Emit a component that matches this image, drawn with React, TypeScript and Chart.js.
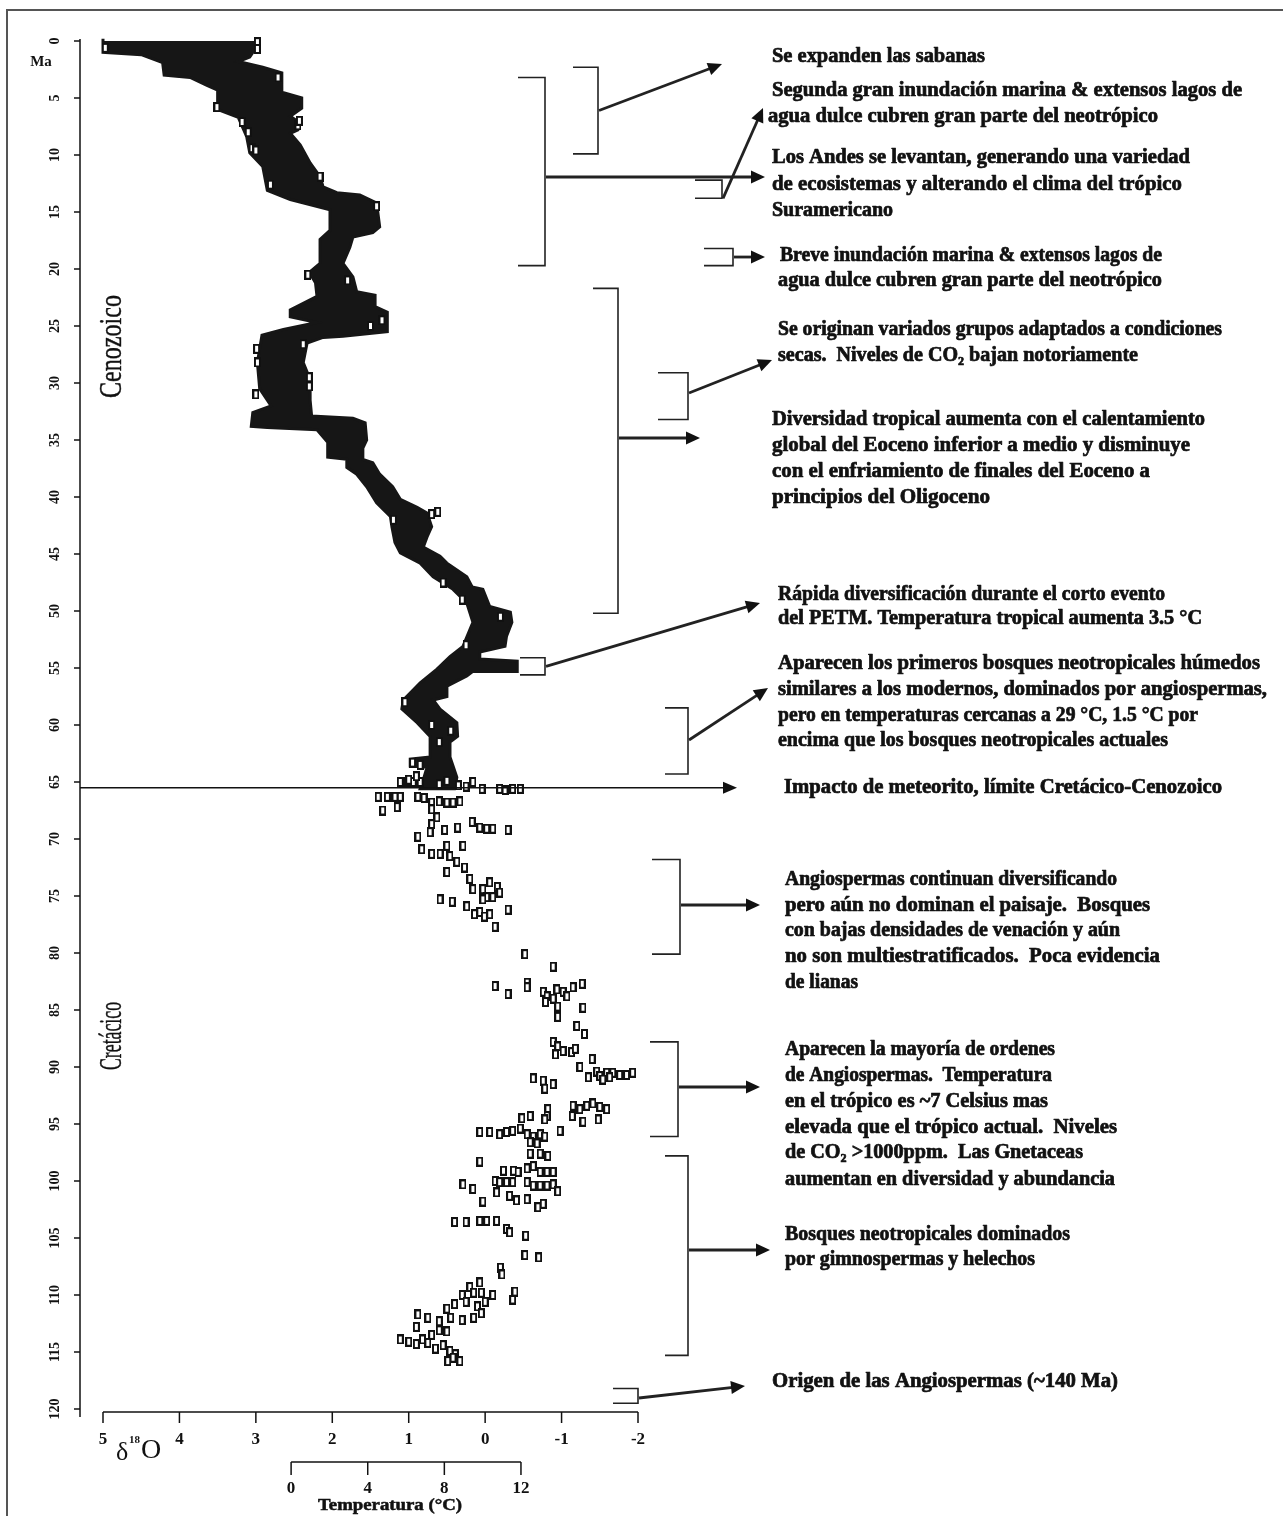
import React, { useEffect, useRef } from "react";
import { Chart, registerables } from "chart.js";

Chart.register(...registerables);

// ---------- DATA ----------
const ageTicks = [0, 5, 10, 15, 20, 25, 30, 35, 40, 45, 50, 55, 60, 65, 70, 75, 80, 85, 90, 95, 100, 105, 110, 115, 120];
const isoTicks = [5, 4, 3, 2, 1, 0, -1, -2];
const tempTicks = [0, 4, 8, 12];

// Dense Cenozoic record: outline of the black band, [δ18O, Ma]
const bandLeftEdge: [number, number][] = [
  [5.0, -0.2], [5.0, 1.0], [4.5, 1.2], [4.22, 1.9], [4.2, 3.0], [3.86, 3.2], [3.64, 3.9], [3.5, 4.3], [3.5, 6.0],
  [3.23, 6.7], [3.12, 8.4], [3.08, 9.8], [2.91, 11.0], [2.85, 13.1], [2.55, 13.9], [2.03, 14.8], [2.03, 16.6],
  [2.16, 17.4], [2.16, 19.5], [2.3, 20.3], [2.22, 21.2], [2.2, 22.4], [2.55, 23.6], [2.55, 24.2], [2.2, 24.7],
  [2.64, 25.3], [2.92, 25.8], [2.98, 28.2], [2.95, 30.5], [2.85, 31.5], [2.8, 32.0], [3.04, 32.6], [3.06, 33.8],
  [2.85, 33.9], [2.2, 34.1], [2.06, 35.2], [2.06, 36.5], [1.81, 36.7], [1.81, 37.4], [1.68, 38.0], [1.55, 39.1],
  [1.42, 40.5], [1.24, 41.7], [1.22, 42.6], [1.18, 44.0], [1.11, 44.9], [0.85, 45.8], [0.68, 47.0], [0.42, 48.1],
  [0.24, 49.3], [0.16, 51.0], [0.29, 53.1], [0.46, 54.0], [0.63, 55.1], [0.85, 56.3], [1.07, 57.8], [1.09, 58.6],
  [0.89, 59.8], [0.72, 61.0], [0.72, 62.8], [0.98, 63.0], [0.98, 63.6], [0.76, 63.7], [0.8, 64.6], [0.85, 65.6],
];
const bandRightEdge: [number, number][] = [
  [2.98, -0.2], [2.98, 0.4], [3.08, 1.4], [3.23, 1.8], [2.91, 2.3], [2.66, 2.8], [2.66, 4.5], [2.4, 5.0], [2.4, 5.9],
  [2.55, 6.6], [2.42, 7.2], [2.45, 7.8], [2.55, 8.1], [2.42, 9.1], [2.29, 10.7], [2.16, 11.9], [2.12, 12.8],
  [1.94, 13.3], [1.64, 13.5], [1.42, 14.2], [1.38, 16.3], [1.47, 16.8], [1.73, 17.2], [1.77, 18.1], [1.86, 19.5],
  [1.73, 20.7], [1.68, 22.0], [1.44, 22.3], [1.44, 23.3], [1.28, 23.8], [1.28, 25.5], [1.86, 25.9], [2.12, 26.0],
  [2.33, 26.5], [2.38, 28.2], [2.29, 29.7], [2.29, 31.5], [2.27, 32.9], [1.73, 33.1], [1.57, 33.5], [1.55, 35.0],
  [1.6, 35.7], [1.6, 36.7], [1.47, 37.0], [1.38, 38.0], [1.21, 39.1], [1.11, 40.2], [0.89, 40.9], [0.76, 41.4],
  [0.7, 42.6], [0.76, 43.5], [0.81, 44.4], [0.59, 45.2], [0.5, 45.8], [0.24, 47.0], [0.17, 47.9], [0.03, 48.1],
  [-0.06, 49.6], [-0.33, 50.1], [-0.35, 51.0], [-0.28, 52.2], [-0.26, 53.1], [0.07, 53.6], [0.07, 54.2],
  [-0.42, 54.4], [-0.42, 55.3], [0.16, 55.3], [0.24, 55.7], [0.5, 56.6], [0.5, 57.5], [0.68, 57.8], [0.59, 58.6],
  [0.37, 59.8], [0.36, 61.0], [0.46, 61.5], [0.46, 62.8], [0.42, 63.6], [0.37, 64.6], [0.4, 65.6],
];

// Individual measurements (open markers), [δ18O, Ma]
const cenozoicPoints: [number, number][] = [
  [4.97, 0.6], [2.98, 0.1], [2.98, 0.7], [2.71, 3.2], [3.51, 5.8], [2.45, 7.4], [2.43, 7.0], [3.18, 7.1],
  [3.1, 8.0], [3.05, 9.4], [3.0, 9.6], [2.16, 11.9], [2.81, 12.6], [1.42, 14.5], [2.32, 20.5], [1.8, 21.0],
  [2.38, 26.6], [2.98, 28.2], [2.3, 29.5], [2.3, 30.3], [2.99, 27.0], [1.35, 24.5], [1.5, 25.0], [3.0, 31.0],
  [0.7, 41.5], [0.62, 41.3], [1.2, 42.0], [0.55, 47.5], [-0.2, 50.5], [0.3, 49.0], [0.25, 53.0], [1.05, 58.0],
  [0.7, 60.0], [0.45, 60.5], [0.6, 61.5], [1.0, 64.8], [0.9, 64.5], [0.6, 65.2], [0.5, 64.9], [0.35, 65.3],
  [0.25, 65.4], [0.95, 63.3], [0.85, 63.5],
];
const boundaryPoints: [number, number][] = [
  [1.11, 65.0], [1.02, 65.0], [0.94, 65.0], [0.85, 65.0], [0.16, 65.0], [0.04, 65.6], [-0.19, 65.6], [-0.26, 65.7],
  [-0.36, 65.6], [-0.46, 65.6], [1.4, 66.3], [1.28, 66.3], [1.18, 66.3], [1.11, 66.3], [1.34, 67.5], [1.15, 67.2],
  [0.88, 66.3], [0.8, 66.4], [0.7, 66.8], [0.6, 66.7], [0.5, 66.8], [0.42, 66.8], [0.33, 66.7], [0.7, 67.4],
  [0.63, 68.1], [0.7, 68.7], [0.72, 69.4], [0.88, 69.8], [0.83, 70.9], [0.7, 71.3], [0.59, 71.3], [0.53, 69.2],
  [0.36, 69.0], [0.17, 68.5], [0.07, 69.0], [-0.02, 69.1], [-0.1, 69.1], [-0.3, 69.2], [0.29, 70.6], [0.5, 70.6],
  [0.46, 71.5], [0.37, 72.0], [0.5, 72.9], [0.27, 72.5], [0.2, 73.5], [0.16, 74.4], [0.03, 74.4], [-0.06, 73.8],
  [-0.16, 74.2], [-0.19, 74.7], [-0.1, 75.1], [-0.02, 75.1], [0.03, 75.3], [0.59, 75.3], [0.43, 75.5], [0.24, 75.9],
  [0.14, 76.6], [0.07, 76.4], [0.01, 76.8], [-0.06, 76.6], [-0.3, 76.2], [-0.13, 77.7],
];
const cretaceousPoints: [number, number][] = [
  [-0.52, 80.1], [-0.89, 81.2], [-0.13, 82.9], [-0.3, 83.6], [-0.55, 82.6], [-0.55, 83.0], [-0.76, 83.4], [-0.81, 83.8],
  [-0.89, 84.0], [-0.94, 83.2], [-1.02, 83.4], [-1.07, 83.8], [-1.15, 83.0], [-1.27, 82.7], [-0.79, 84.3], [-0.95, 84.7],
  [-1.28, 84.8], [-0.95, 85.6], [-1.2, 86.4], [-1.3, 87.1], [-0.89, 87.8], [-0.95, 88.2], [-1.02, 88.6], [-1.13, 88.7],
  [-1.18, 88.4], [-0.92, 88.9], [-1.4, 89.3], [-1.24, 90.0], [-1.35, 90.9], [-1.46, 90.4], [-1.5, 90.8], [-1.59, 90.5],
  [-1.67, 90.5], [-1.76, 90.7], [-1.85, 90.7], [-1.93, 90.5], [-1.54, 91.1], [-1.63, 90.9], [-0.63, 91.0], [-0.76, 91.2],
  [-0.89, 91.5], [-0.78, 91.9], [-0.82, 93.7], [-0.81, 94.3], [-0.78, 94.6], [-1.15, 93.4], [-1.24, 93.7], [-1.33, 93.4],
  [-1.41, 93.2], [-1.5, 93.5], [-1.59, 93.7], [-1.14, 94.3], [-1.28, 94.8], [-1.48, 94.6], [-0.98, 95.6], [-0.48, 94.5],
  [-0.59, 94.3], [0.07, 95.7], [-0.06, 95.7], [-0.19, 95.9], [-0.28, 95.7], [-0.36, 95.6], [-0.46, 95.4], [-0.55, 95.9],
  [-0.63, 96.1], [-0.72, 95.9], [-0.78, 96.1], [-0.59, 96.6], [-0.68, 96.7], [-0.59, 97.6], [-0.72, 97.6], [-0.82, 97.8],
  [0.07, 98.3], [-0.55, 98.9], [-0.63, 98.7], [-0.72, 99.2], [-0.81, 99.2], [-0.89, 99.2], [-0.24, 99.1], [-0.37, 99.1],
  [-0.43, 99.2], [-0.13, 100.0], [-0.19, 100.1], [-0.28, 100.1], [-0.36, 100.1], [-0.55, 100.1], [-0.63, 100.4],
  [-0.72, 100.4], [-0.81, 100.4], [-0.89, 100.3], [-0.95, 100.9], [0.29, 100.3], [0.16, 100.7], [0.03, 101.8],
  [-0.15, 101.0], [-0.32, 101.3], [-0.41, 101.7], [-0.55, 101.6], [-0.69, 102.3], [-0.76, 102.0], [0.4, 103.6],
  [0.25, 103.6], [0.07, 103.5], [-0.02, 103.5], [-0.15, 103.5], [-0.28, 104.2], [-0.32, 104.5], [-0.53, 104.8],
  [-0.52, 106.5], [-0.7, 106.7], [-0.2, 107.6], [-0.22, 108.2], [0.07, 108.9], [0.2, 109.3], [0.15, 109.8],
  [0.3, 110.0], [0.05, 109.8], [-0.1, 110.0], [-0.36, 110.4], [-0.39, 109.7], [0.0, 110.6], [0.1, 111.0],
  [0.25, 110.6], [0.4, 110.8], [0.5, 111.2], [0.88, 111.7], [0.75, 112.0], [0.6, 112.3], [0.45, 112.0], [0.3, 112.2],
  [0.15, 112.0], [0.05, 111.6], [0.9, 112.8], [0.6, 113.1], [0.7, 113.5], [0.5, 113.2], [1.11, 113.9], [1.0, 114.1],
  [0.9, 114.3], [0.82, 113.9], [0.75, 114.2], [0.65, 114.7], [0.55, 114.4], [0.46, 114.9], [0.39, 115.2],
  [0.33, 115.8], [0.49, 115.8], [0.42, 115.5],
];

// Events: age spans (Ma) marked with brackets
const eventSpans: [number, number][] = [
  [2.3, 9.9], [3.2, 19.7], [12.2, 13.8], [18.2, 19.7], [21.7, 50.2], [29.1, 33.2],
  [54.1, 55.6], [58.5, 64.3], [71.8, 80.1], [87.8, 96.1], [97.8, 115.3], [118.2, 119.5],
];
const kpgBoundary = 65.5;

// ---------- LAYOUT ----------
const W = 1283;
const H = 1516;
const SERIF = '"Liberation Serif", "Times New Roman", serif';

// per bracket: horizontal start x, vertical x, arrow start y (px, null=mid), arrow end
const bracketLayout = [
  { x1: 573, vx: 598, ay: null, tx: 722, ty: 64 },
  { x1: 518, vx: 545, ay: 177, tx: 765, ty: 177 },
  { x1: 695, vx: 722, ay: "bottom", tx: 763, ty: 108 },
  { x1: 704, vx: 733, ay: null, tx: 765, ty: "same" },
  { x1: 593, vx: 618, ay: 438, tx: 700, ty: 438 },
  { x1: 658, vx: 688, ay: 393, tx: 772, ty: 360 },
  { x1: 520, vx: 545, ay: null, tx: 760, ty: 603 },
  { x1: 665, vx: 688, ay: 740, tx: 768, ty: 688 },
  { x1: 652, vx: 680, ay: 905, tx: 760, ty: 905 },
  { x1: 650, vx: 678, ay: 1087, tx: 760, ty: 1087 },
  { x1: 665, vx: 688, ay: 1250, tx: 770, ty: 1250 },
  { x1: 613, vx: 638, ay: 1398, tx: 745, ty: 1386 },
];

// annotation text lines: [text, x, y, width]
const noteLines: [string, number, number, number][] = [
  ["Se expanden las sabanas", 772, 57, 213],
  ["Segunda gran inundación marina & extensos lagos de", 772, 91, 470],
  ["agua dulce cubren gran parte del neotrópico", 768, 117, 390],
  ["Los Andes se levantan, generando una variedad", 772, 158, 418],
  ["de ecosistemas y alterando el clima del trópico", 772, 185, 410],
  ["Suramericano", 772, 211, 121],
  ["Breve inundación marina & extensos lagos de", 780, 256, 382],
  ["agua dulce cubren gran parte del neotrópico", 778, 281, 384],
  ["Se originan variados grupos adaptados a condiciones", 778, 330, 444],
  ["secas.  Niveles de CO₂ bajan notoriamente", 778, 356, 360],
  ["Diversidad tropical aumenta con el calentamiento", 772, 420, 433],
  ["global del Eoceno inferior a medio y disminuye", 772, 446, 418],
  ["con el enfriamiento de finales del Eoceno a", 772, 472, 378],
  ["principios del Oligoceno", 772, 498, 218],
  ["Rápida diversificación durante el corto evento", 778, 595, 387],
  ["del PETM. Temperatura tropical aumenta 3.5 °C", 778, 619, 424],
  ["Aparecen los primeros bosques neotropicales húmedos", 778, 664, 482],
  ["similares a los modernos, dominados por angiospermas,", 778, 690, 489],
  ["pero en temperaturas cercanas a 29 °C, 1.5 °C por", 778, 716, 420],
  ["encima que los bosques neotropicales actuales", 778, 741, 390],
  ["Impacto de meteorito, límite Cretácico-Cenozoico", 784, 788, 438],
  ["Angiospermas continuan diversificando", 785, 880, 332],
  ["pero aún no dominan el paisaje.  Bosques", 785, 906, 365],
  ["con bajas densidades de venación y aún", 785, 931, 335],
  ["no son multiestratificados.  Poca evidencia", 785, 957, 375],
  ["de lianas", 785, 983, 73],
  ["Aparecen la mayoría de ordenes", 785, 1050, 270],
  ["de Angiospermas.  Temperatura", 785, 1076, 267],
  ["en el trópico es ~7 Celsius mas", 785, 1102, 263],
  ["elevada que el trópico actual.  Niveles", 785, 1128, 332],
  ["de CO₂ >1000ppm.  Las Gnetaceas", 785, 1153, 298],
  ["aumentan en diversidad y abundancia", 785, 1180, 330],
  ["Bosques neotropicales dominados", 785, 1235, 285],
  ["por gimnospermas y helechos", 785, 1260, 250],
  ["Origen de las Angiospermas (~140 Ma)", 772, 1382, 346],
];

function fitText(ctx: CanvasRenderingContext2D, s: string, x: number, y: number, w: number, heavy = 0) {
  const m = ctx.measureText(s).width || 1;
  ctx.save();
  ctx.translate(x, y);
  ctx.scale(w / m, 1);
  if (heavy > 0) {
    ctx.lineWidth = heavy;
    ctx.lineJoin = "round";
    ctx.strokeText(s, 0, 0);
  }
  ctx.fillText(s, 0, 0);
  ctx.restore();
}

function drawArrow(ctx: CanvasRenderingContext2D, x1: number, y1: number, x2: number, y2: number) {
  const a = Math.atan2(y2 - y1, x2 - x1);
  const head = 14;
  const hw = 6.5;
  const bx = x2 - head * Math.cos(a);
  const by = y2 - head * Math.sin(a);
  ctx.lineWidth = 2.8;
  ctx.beginPath();
  ctx.moveTo(x1, y1);
  ctx.lineTo(bx + 2 * Math.cos(a), by + 2 * Math.sin(a));
  ctx.stroke();
  ctx.beginPath();
  ctx.moveTo(x2, y2);
  ctx.lineTo(bx - hw * Math.sin(a), by + hw * Math.cos(a));
  ctx.lineTo(bx + hw * Math.sin(a), by - hw * Math.cos(a));
  ctx.closePath();
  ctx.fill();
}

function drawArrowThin(ctx: CanvasRenderingContext2D, x1: number, y: number, x2: number, y2: number) {
  ctx.beginPath();
  ctx.moveTo(x1, y);
  ctx.lineTo(x2 - 10, y2);
  ctx.stroke();
  ctx.beginPath();
  ctx.moveTo(x2, y2);
  ctx.lineTo(x2 - 14, y2 - 6);
  ctx.lineTo(x2 - 14, y2 + 6);
  ctx.closePath();
  ctx.fill();
}

function makeMarker(): HTMLCanvasElement {
  const c = document.createElement("canvas");
  c.width = 7;
  c.height = 10;
  const g = c.getContext("2d")!;
  g.fillStyle = "#111";
  g.fillRect(0, 0, 7, 10);
  g.fillStyle = "#fff";
  g.fillRect(2, 2, 3, 6);
  return c;
}

const figurePlugin = {
  id: "figureDecor",
  afterDatasetsDraw(chart: any) {
    const ctx: CanvasRenderingContext2D = chart.ctx;
    const xs = chart.scales.x;
    const ys = chart.scales.y;
    const xt = chart.scales.xT;
    ctx.save();
    ctx.strokeStyle = "#111";
    ctx.fillStyle = "#111";
    ctx.lineCap = "butt";

    // frame
    ctx.strokeStyle = "#555";
    ctx.lineWidth = 2;
    ctx.beginPath();
    ctx.moveTo(7, H);
    ctx.lineTo(7, 10);
    ctx.lineTo(W, 10);
    ctx.stroke();
    ctx.strokeStyle = "#111";

    // K-Pg boundary line
    const yk = ys.getPixelForValue(kpgBoundary);
    ctx.lineWidth = 1.5;
    drawArrowThin(ctx, 80, yk, 737, yk);

    // brackets
    ctx.strokeStyle = "#222";
    eventSpans.forEach((span, i) => {
      const L = bracketLayout[i];
      const y1 = ys.getPixelForValue(span[0]);
      const y2 = ys.getPixelForValue(span[1]);
      ctx.lineWidth = 1.6;
      ctx.beginPath();
      ctx.moveTo(L.x1, y1);
      ctx.lineTo(L.vx, y1);
      ctx.lineTo(L.vx, y2);
      ctx.lineTo(L.x1, y2);
      ctx.stroke();
      let ay: number;
      if (L.ay === null) ay = (y1 + y2) / 2;
      else if (L.ay === "bottom") ay = y2;
      else ay = L.ay as number;
      const ty = L.ty === "same" ? ay : (L.ty as number);
      drawArrow(ctx, L.vx + 1, ay, L.tx, ty);
    });
    ctx.strokeStyle = "#111";

    // Y axis (Ma)
    const yTop = ys.getPixelForValue(0);
    const yBot = ys.getPixelForValue(120);
    ctx.lineWidth = 1.5;
    ctx.beginPath();
    ctx.moveTo(80, yTop - 2);
    ctx.lineTo(80, yBot + 8);
    ctx.stroke();
    ctx.font = `bold 14px ${SERIF}`;
    ctx.textAlign = "center";
    ctx.textBaseline = "middle";
    ys.ticks.forEach((t: any) => {
      const py = ys.getPixelForValue(t.value);
      ctx.beginPath();
      ctx.moveTo(74, py);
      ctx.lineTo(80, py);
      ctx.stroke();
      ctx.save();
      ctx.translate(55, py);
      ctx.rotate(-Math.PI / 2);
      ctx.fillText(String(t.value), 0, 0);
      ctx.restore();
    });
    ctx.font = `bold 15px ${SERIF}`;
    ctx.fillText("Ma", 41, 62);

    // X axis (δ18O)
    const xAxisY = 1412;
    ctx.lineWidth = 1.5;
    ctx.beginPath();
    ctx.moveTo(xs.getPixelForValue(5), xAxisY);
    ctx.lineTo(xs.getPixelForValue(-2), xAxisY);
    ctx.stroke();
    ctx.font = `bold 17px ${SERIF}`;
    xs.ticks.forEach((t: any) => {
      const px = xs.getPixelForValue(t.value);
      ctx.beginPath();
      ctx.moveTo(px, xAxisY);
      ctx.lineTo(px, xAxisY + 11);
      ctx.stroke();
      ctx.fillText(String(t.value), px, 1440);
    });
    // δ18O label
    ctx.textAlign = "left";
    ctx.font = `26px ${SERIF}`;
    ctx.fillText("δ", 116, 1453);
    ctx.font = `bold 11px ${SERIF}`;
    ctx.fillText("18", 129, 1440);
    ctx.font = `28px ${SERIF}`;
    ctx.fillText("O", 141, 1451);

    // Temperature axis
    const tAxisY = 1462;
    ctx.lineWidth = 1.5;
    ctx.beginPath();
    ctx.moveTo(xt.getPixelForValue(tempTicks[0]), tAxisY);
    ctx.lineTo(xt.getPixelForValue(tempTicks[tempTicks.length - 1]), tAxisY);
    ctx.stroke();
    ctx.textAlign = "center";
    ctx.font = `bold 17px ${SERIF}`;
    xt.ticks.forEach((t: any) => {
      const px = xt.getPixelForValue(t.value);
      ctx.beginPath();
      ctx.moveTo(px, tAxisY);
      ctx.lineTo(px, tAxisY + 13);
      ctx.stroke();
      ctx.fillText(String(t.value), px, 1489);
    });
    ctx.textAlign = "left";
    ctx.font = `bold 16px ${SERIF}`;
    fitText(ctx, "Temperatura (°C)", 318, 1506, 144, 0.5);

    // Era labels (vertical)
    ctx.font = `31px ${SERIF}`;
    ctx.save();
    ctx.translate(113, 398);
    ctx.rotate(-Math.PI / 2);
    fitText(ctx, "Cenozoico", 0, 0, 103, 0.4);
    ctx.restore();
    ctx.save();
    ctx.translate(113, 1070);
    ctx.rotate(-Math.PI / 2);
    fitText(ctx, "Cretácico", 0, 0, 68, 0.4);
    ctx.restore();

    // Annotation texts
    ctx.font = `bold 20px ${SERIF}`;
    ctx.textAlign = "left";
    ctx.textBaseline = "middle";
    noteLines.forEach(([s, x, y, w]) => fitText(ctx, s, x, y, w, 0.7));

    ctx.restore();
  },
};

const toXY = (arr: [number, number][]) => arr.map(([x, y]) => ({ x, y }));

export default function App() {
  const ref = useRef<HTMLCanvasElement | null>(null);
  useEffect(() => {
    document.body.style.margin = "0";
    const canvas = ref.current!;
    const marker = makeMarker();
    const outline = [...toXY(bandLeftEdge), ...toXY([...bandRightEdge].reverse())];
    const markerSet = (label: string, pts: [number, number][]) =>
      ({ label, data: toXY(pts), pointStyle: marker, pointRadius: 4, order: 1, clip: false } as any);
    const chart = new Chart(canvas, {
      type: "scatter",
      data: {
        datasets: [
          {
            label: "Cenozoic dense record",
            data: outline,
            showLine: true,
            fill: "shape",
            backgroundColor: "#161616",
            borderColor: "#161616",
            borderWidth: 3,
            borderJoinStyle: "miter",
            pointRadius: 0,
            tension: 0,
            order: 3,
            clip: false,
          } as any,
          markerSet("Cenozoic", cenozoicPoints),
          markerSet("K-Pg", boundaryPoints),
          markerSet("Cretaceous", cretaceousPoints),
        ],
      },
      options: {
        responsive: false,
        animation: false,
        devicePixelRatio: 1,
        events: [],
        layout: { padding: { left: 103, right: W - 638, top: 41, bottom: H - 1409 } },
        plugins: { legend: { display: false }, tooltip: { enabled: false }, title: { display: false } },
        scales: {
          x: {
            type: "linear",
            min: -2,
            max: 5,
            reverse: true,
            display: false,
            afterBuildTicks: (s: any) => {
              s.ticks = isoTicks.map((v) => ({ value: v }));
            },
          },
          xT: {
            type: "linear",
            axis: "x",
            min: -9.82,
            max: 18.11,
            display: false,
            afterBuildTicks: (s: any) => {
              s.ticks = tempTicks.map((v) => ({ value: v }));
            },
          },
          y: {
            type: "linear",
            min: 0,
            max: 120,
            reverse: true,
            display: false,
            afterBuildTicks: (s: any) => {
              s.ticks = ageTicks.map((v) => ({ value: v }));
            },
          },
        } as any,
      },
      plugins: [figurePlugin],
    });
    return () => chart.destroy();
  }, []);
  return <canvas ref={ref} width={W} height={H} style={{ display: "block" }} />;
}
